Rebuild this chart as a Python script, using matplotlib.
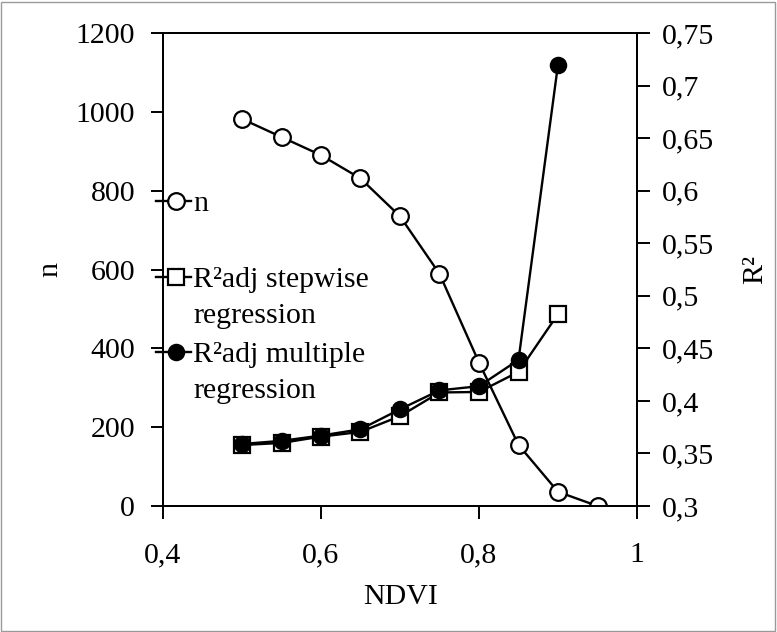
import matplotlib
matplotlib.use("Agg")
import matplotlib.pyplot as plt
from matplotlib.lines import Line2D
from matplotlib.patches import Rectangle
from matplotlib.ticker import FuncFormatter

plt.rcParams['font.family'] = ['Liberation Serif', 'DejaVu Serif']

ndvi_n = [0.5, 0.55, 0.6, 0.65, 0.7, 0.75, 0.8, 0.85, 0.9, 0.95]
n_vals = [982, 936, 890, 831, 735, 589, 364, 155, 36, 0]
ndvi_r2 = [0.5, 0.55, 0.6, 0.65, 0.7, 0.75, 0.8, 0.85, 0.9]
r2_stepwise = [0.358, 0.360, 0.366, 0.3705, 0.3855, 0.408, 0.4085, 0.4276, 0.4826]
r2_multiple = [0.359, 0.362, 0.367, 0.373, 0.392, 0.410, 0.414, 0.439, 0.720]

x_ticks = [0.4, 0.6, 0.8, 1.0]
n_ticks = [0, 200, 400, 600, 800, 1000, 1200]
r2_ticks = [0.3, 0.35, 0.4, 0.45, 0.5, 0.55, 0.6, 0.65, 0.7, 0.75]

legend_labels = [["n"], ["R\u00b2adj stepwise", "regression"], ["R\u00b2adj multiple", "regression"]]

FS = 21.5
W, H = 777, 632
fig = plt.figure(figsize=(W / 100, H / 100), dpi=100)
L, R, T, B = 163, 637, 33, 506
ax = fig.add_axes([L / W, 1 - B / H, (R - L) / W, (B - T) / H])
ax2 = ax.twinx()

def comma(v, pos=None):
    s = ('%.2f' % v).rstrip('0').rstrip('.')
    return s.replace('.', ',')

lw = 1.7
ms = 12
mew = 1.6
ax.plot(ndvi_n, n_vals, color='black', lw=lw, marker='o', ms=ms,
        mfc='white', mec='black', mew=mew, zorder=3)
ax2.plot(ndvi_r2, r2_stepwise, color='black', lw=lw, marker='s', ms=ms,
         mfc='white', mec='black', mew=mew, zorder=3)
ax2.plot(ndvi_r2, r2_multiple, color='black', lw=lw, marker='o', ms=ms - 1,
         mfc='black', mec='black', mew=mew, zorder=4)

ax.set_xlim(0.4, 1.0)
ax.set_ylim(0, 1200)
ax2.set_ylim(0.3, 0.75)
ax.set_xticks(x_ticks)
ax.set_yticks(n_ticks)
ax2.set_yticks(r2_ticks)
ax.xaxis.set_major_formatter(FuncFormatter(comma))
ax2.yaxis.set_major_formatter(FuncFormatter(comma))

for a in (ax, ax2):
    for sp in a.spines.values():
        sp.set_linewidth(1.4)
    a.tick_params(direction='out', length=9, width=1.4, labelsize=FS)
ax.tick_params(axis='y', pad=11)
ax.tick_params(axis='x', pad=17)
ax2.tick_params(axis='y', pad=9)

ax.set_xlabel('NDVI', fontsize=FS)
ax.xaxis.set_label_coords(0.5, -0.165)
ax.set_ylabel('n', fontsize=FS, va='center')
ax.yaxis.set_label_coords(-0.238, 0.5)
ax2.set_ylabel('R\u00b2', fontsize=FS, va='center', rotation=90)
ax2.yaxis.set_label_coords(1.25, 0.5)

# manual legend (Excel style: marker aligned with first text line)
leg_styles = [dict(marker='o', mfc='white', ms=ms),
              dict(marker='s', mfc='white', ms=ms),
              dict(marker='o', mfc='black', ms=ms - 1)]
leg_y_px = [201, 277, 352]
line_gap = 36
for lines, st, ypx in zip(legend_labels, leg_styles, leg_y_px):
    yf = 1 - ypx / H
    fig.add_artist(Line2D([156 / W, 191 / W], [yf, yf], transform=fig.transFigure,
                          color='black', lw=lw, zorder=5))
    fig.add_artist(Line2D([176 / W], [yf], transform=fig.transFigure,
                          color='black', lw=0, marker=st['marker'], ms=st['ms'],
                          mfc=st['mfc'], mec='black', mew=mew, zorder=6))
    for i, txt in enumerate(lines):
        fig.text(193 / W, 1 - (ypx + i * line_gap) / H, txt, fontsize=FS,
                 ha='left', va='center_baseline', zorder=6)

fig.add_artist(Rectangle((1 / W, 1 / H), 1 - 3 / W, 1 - 3 / H, transform=fig.transFigure,
                         fill=False, edgecolor='#9a9a9a', lw=1))

fig.savefig('out.png', dpi=100)
